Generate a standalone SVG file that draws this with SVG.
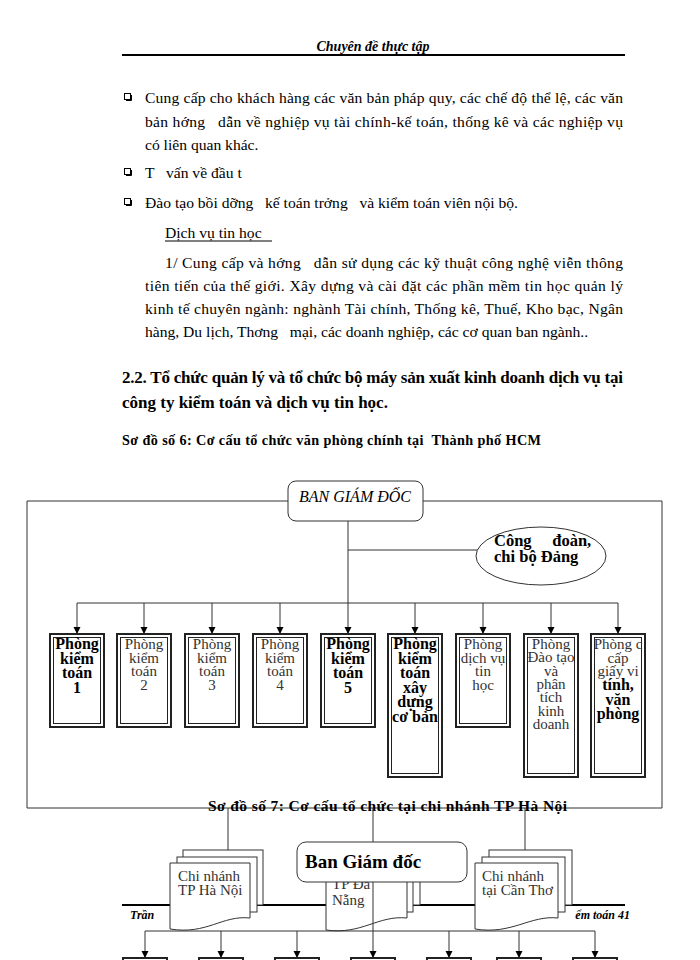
<svg xmlns="http://www.w3.org/2000/svg" width="700" height="960" viewBox="0 0 700 960">
<style>
.t{font-family:"Liberation Serif","Times New Roman",serif;font-size:15.6px;fill:#000}
.b{font-weight:bold}
.hd{font-family:"Liberation Serif",serif;font-style:italic;font-weight:bold;font-size:14px}
.bx{font-family:"Liberation Serif",serif;font-size:16px;text-anchor:middle;fill:#000;font-weight:bold}
.rg{font-weight:normal;fill:#333;font-size:15px}
.ln{stroke:#333;stroke-width:1;fill:none}
.ob{fill:#fff;stroke:#222;stroke-width:2}
.ib{fill:none;stroke:#222;stroke-width:1}
.doc{fill:#fff;stroke:#333;stroke-width:1}
.bul{fill:#fff;stroke:#000;stroke-width:1}
</style>
<defs>
<marker id="ad" markerWidth="8" markerHeight="8" refX="4" refY="7" markerUnits="userSpaceOnUse" viewBox="0 0 8 8">
<path d="M0.5 0 L7.5 0 L4 7 Z" fill="#000"/>
</marker>
</defs>
<rect width="700" height="960" fill="#fff"/>

<!-- header -->
<text class="hd" x="373" y="51" text-anchor="middle">Chuyên đề thực tập</text>
<line x1="122" y1="55" x2="625" y2="55" stroke="#000" stroke-width="2"/>

<!-- bullets -->
<rect class="bul" x="124.5" y="93.5" width="6" height="6"/><path d="M126 100.5 H131.5 V95" stroke="#000" fill="none"/>
<rect class="bul" x="124.5" y="168.5" width="6" height="6"/><path d="M126 175.5 H131.5 V170" stroke="#000" fill="none"/>
<rect class="bul" x="124.5" y="198.5" width="6" height="6"/><path d="M126 205.5 H131.5 V200" stroke="#000" fill="none"/>

<text class="t" x="145" y="103" textLength="478" lengthAdjust="spacing">Cung cấp cho khách hàng các văn bản pháp quy, các chế độ thể lệ, các văn</text>
<text class="t" x="145" y="127" textLength="478" lengthAdjust="spacing" xml:space="preserve">bản hớng   dẫn về nghiệp vụ tài chính-kế toán, thống kê và các nghiệp vụ</text>
<text class="t" x="145" y="150">có liên quan khác.</text>
<text class="t" x="145" y="178" xml:space="preserve">T   vấn về đầu t</text>
<text class="t" x="145" y="208" xml:space="preserve">Đào tạo bồi dỡng   kế toán trởng   và kiểm toán viên nội bộ.</text>
<text class="t" x="165" y="238">Dịch vụ tin học </text>
<line x1="165" y1="241" x2="272" y2="241" stroke="#000" stroke-width="1"/>
<text class="t" x="165" y="268" textLength="458" lengthAdjust="spacing" xml:space="preserve">1/ Cung cấp và hớng   dẫn sử dụng các kỹ thuật công nghệ viễn thông</text>
<text class="t" x="145" y="291" textLength="478" lengthAdjust="spacing">tiên tiến của thế giới. Xây dựng và cài đặt các phần mềm tin học quản lý</text>
<text class="t" x="145" y="314" textLength="478" lengthAdjust="spacing">kinh tế chuyên ngành: nghành Tài chính, Thống kê, Thuế, Kho bạc, Ngân</text>
<text class="t" x="145" y="337" xml:space="preserve">hàng, Du lịch, Thơng   mại, các doanh nghiệp, các cơ quan ban ngành..</text>

<text class="t b" x="122" y="383" style="font-size:17px" textLength="501" lengthAdjust="spacing">2.2. Tổ chức quản lý và tổ chức bộ máy sản xuất kinh doanh dịch vụ tại</text>
<text class="t b" x="122" y="408" style="font-size:17px">công ty kiểm toán và dịch vụ tin học.</text>
<text class="t b" x="122" y="445" style="font-size:14.2px" textLength="419" lengthAdjust="spacing" xml:space="preserve">Sơ đồ số 6: Cơ cấu tổ chức văn phòng chính tại  Thành phố HCM</text>

<!-- connectors diagram 6 -->
<g id="connectors">
<path class="ln" d="M288 501 H27 V808 H662 V501 H423"/>
<line class="ln" x1="348" y1="521" x2="348" y2="603"/>
<line class="ln" x1="348" y1="550" x2="478" y2="550"/>
<line class="ln" x1="77" y1="603" x2="618" y2="603"/>
<line class="ln" x1="77" y1="603" x2="77" y2="634" marker-end="url(#ad)"/>
<line class="ln" x1="144" y1="603" x2="144" y2="634" marker-end="url(#ad)"/>
<line class="ln" x1="212" y1="603" x2="212" y2="634" marker-end="url(#ad)"/>
<line class="ln" x1="280" y1="603" x2="280" y2="634" marker-end="url(#ad)"/>
<line class="ln" x1="348" y1="603" x2="348" y2="634" marker-end="url(#ad)"/>
<line class="ln" x1="415" y1="603" x2="415" y2="634" marker-end="url(#ad)"/>
<line class="ln" x1="483" y1="603" x2="483" y2="634" marker-end="url(#ad)"/>
<line class="ln" x1="551" y1="603" x2="551" y2="634" marker-end="url(#ad)"/>
<line class="ln" x1="618" y1="603" x2="618" y2="634" marker-end="url(#ad)"/>
</g>

<g id="ban-giam-doc">
<rect x="288" y="481" width="135" height="40" rx="8" fill="#fff" stroke="#333" stroke-width="1"/>
<text x="355" y="502" text-anchor="middle" style="font-family:'Liberation Serif',serif;font-style:italic;font-size:16px">BAN GIÁM ĐỐC</text>
</g>

<g id="cong-doan">
<ellipse cx="541" cy="556" rx="65" ry="29" fill="#fff" stroke="#333" stroke-width="1"/>
<text class="t b" x="494" y="546" style="font-size:16.5px" xml:space="preserve">Công     đoàn,</text>
<text class="t b" x="494" y="562" style="font-size:16.5px">chi bộ Đảng</text>
</g>

<g id="p1"><rect class="ob" x="50" y="634" width="54" height="93"/><rect class="ib" x="53.5" y="637.5" width="47" height="86"/>
<text class="bx" x="77"><tspan x="77" y="649">Phòng</tspan><tspan x="77" y="663.5">kiểm</tspan><tspan x="77" y="678">toán</tspan><tspan x="77" y="692.5">1</tspan></text></g>
<g id="p2"><rect class="ob" x="117" y="634" width="54" height="93"/><rect class="ib" x="120.5" y="637.5" width="47" height="86"/>
<text class="bx rg" x="144"><tspan x="144" y="649">Phòng</tspan><tspan x="144" y="662.5">kiểm</tspan><tspan x="144" y="676">toán</tspan><tspan x="144" y="689.5">2</tspan></text></g>
<g id="p3"><rect class="ob" x="185" y="634" width="54" height="93"/><rect class="ib" x="188.5" y="637.5" width="47" height="86"/>
<text class="bx rg" x="212"><tspan x="212" y="649">Phòng</tspan><tspan x="212" y="662.5">kiểm</tspan><tspan x="212" y="676">toán</tspan><tspan x="212" y="689.5">3</tspan></text></g>
<g id="p4"><rect class="ob" x="253" y="634" width="54" height="93"/><rect class="ib" x="256.5" y="637.5" width="47" height="86"/>
<text class="bx rg" x="280"><tspan x="280" y="649">Phòng</tspan><tspan x="280" y="662.5">kiểm</tspan><tspan x="280" y="676">toán</tspan><tspan x="280" y="689.5">4</tspan></text></g>
<g id="p5"><rect class="ob" x="321" y="634" width="54" height="93"/><rect class="ib" x="324.5" y="637.5" width="47" height="86"/>
<text class="bx" x="348"><tspan x="348" y="649">Phòng</tspan><tspan x="348" y="663.5">kiểm</tspan><tspan x="348" y="678">toán</tspan><tspan x="348" y="692.5">5</tspan></text></g>
<g id="p6"><rect class="ob" x="388" y="634" width="54" height="143"/><rect class="ib" x="391.5" y="637.5" width="47" height="136"/>
<text class="bx" x="415"><tspan x="415" y="649">Phòng</tspan><tspan x="415" y="663.5">kiểm</tspan><tspan x="415" y="678">toán</tspan><tspan x="415" y="692.5">xây</tspan><tspan x="415" y="707">dựng</tspan><tspan x="415" y="721.5">cơ bản</tspan></text></g>
<g id="p7"><rect class="ob" x="456" y="634" width="54" height="93"/><rect class="ib" x="459.5" y="637.5" width="47" height="86"/>
<text class="bx rg" x="483"><tspan x="483" y="649">Phòng</tspan><tspan x="483" y="662.5">dịch vụ</tspan><tspan x="483" y="676">tin</tspan><tspan x="483" y="689.5">học</tspan></text></g>
<g id="p8"><rect class="ob" x="524" y="634" width="54" height="143"/><rect class="ib" x="527.5" y="637.5" width="47" height="136"/>
<text class="bx rg" x="551"><tspan x="551" y="649">Phòng</tspan><tspan x="551" y="662.3">Đào tạo</tspan><tspan x="551" y="675.6">và</tspan><tspan x="551" y="689">phân</tspan><tspan x="551" y="702.3">tích</tspan><tspan x="551" y="715.6">kinh</tspan><tspan x="551" y="729">doanh</tspan></text></g>
<g id="p9"><rect class="ob" x="591" y="634" width="54" height="143"/><rect class="ib" x="594.5" y="637.5" width="47" height="136"/>
<text class="bx rg" x="618"><tspan x="618" y="649">Phòng c</tspan><tspan x="618" y="662.5">cấp</tspan><tspan x="618" y="676">giấy vi</tspan><tspan x="618" y="690" font-weight="bold" fill="#000" font-size="16">tính,</tspan><tspan x="618" y="704.5" font-weight="bold" fill="#000" font-size="16">văn</tspan><tspan x="618" y="719" font-weight="bold" fill="#000" font-size="16">phòng</tspan></text></g>

<!-- diagram 7 -->
<text class="t b" x="208" y="811" style="font-size:15.5px" textLength="359" lengthAdjust="spacing">Sơ đồ số 7: Cơ cấu tổ chức tại chi nhánh TP Hà Nội</text>

<!-- footer -->
<line x1="122" y1="905" x2="625" y2="905" stroke="#000" stroke-width="2"/>
<text class="hd" x="130" y="919" style="font-size:12px">Trần</text>
<text class="hd" x="630" y="919" text-anchor="end" style="font-size:12px">ểm toán 41</text>

<g id="connectors-7">
<line class="ln" x1="228" y1="808" x2="228" y2="850"/>
<line class="ln" x1="525" y1="808" x2="525" y2="850"/>
<line class="ln" x1="373" y1="808" x2="373" y2="842"/>
</g>

<g id="cn-ha-noi">
<rect class="doc" x="183" y="850" width="80" height="55"/>
<rect class="doc" x="177" y="857" width="80" height="55"/>
<path class="doc" d="M170 863 H250 V918 C222 915 207 935 170 929 Z"/>
<text class="t rg" x="178" y="881">Chi nhánh</text>
<text class="t rg" x="178" y="895">TP Hà Nội</text>
</g>

<g id="cn-da-nang">
<rect class="doc" x="340" y="852" width="80" height="53"/>
<rect class="doc" x="333" y="857" width="80" height="55"/>
<path class="doc" d="M326 862 H407 V918 C378 915 362 935 326 930 Z"/>
<text class="t rg" x="332" y="889">TP Đà</text>
<text class="t rg" x="332" y="905">Nẵng</text>
</g>

<g id="cn-can-tho">
<rect class="doc" x="489" y="850" width="83" height="55"/>
<rect class="doc" x="482" y="857" width="83" height="55"/>
<path class="doc" d="M475 863 H558 V918 C530 915 512 935 475 929 Z"/>
<text class="t rg" x="482" y="881">Chi nhánh</text>
<text class="t rg" x="482" y="895">tại Cần Thơ</text>
</g>

<g id="ban-giam-doc-7">
<rect x="297" y="842" width="170" height="40" rx="9" fill="#fff" stroke="#333" stroke-width="1"/>
<text class="t b" x="305" y="868" style="font-size:19px">Ban Giám đốc</text>
</g>

<g id="connectors-7b">
<line class="ln" x1="373" y1="882" x2="373" y2="931"/>
<line class="ln" x1="145" y1="931" x2="595" y2="931"/>
<line class="ln" x1="145" y1="931" x2="145" y2="958" marker-end="url(#ad)"/>
<line class="ln" x1="221" y1="931" x2="221" y2="958" marker-end="url(#ad)"/>
<line class="ln" x1="297" y1="931" x2="297" y2="958" marker-end="url(#ad)"/>
<line class="ln" x1="373" y1="931" x2="373" y2="958" marker-end="url(#ad)"/>
<line class="ln" x1="449" y1="931" x2="449" y2="958" marker-end="url(#ad)"/>
<line class="ln" x1="519" y1="931" x2="519" y2="958" marker-end="url(#ad)"/>
<line class="ln" x1="595" y1="931" x2="595" y2="958" marker-end="url(#ad)"/>
</g>
<g id="bottom-boxes">
<rect class="ob" x="123" y="958" width="44" height="20"/>
<rect class="ob" x="199" y="958" width="44" height="20"/>
<rect class="ob" x="275" y="958" width="44" height="20"/>
<rect class="ob" x="351" y="958" width="44" height="20"/>
<rect class="ob" x="427" y="958" width="44" height="20"/>
<rect class="ob" x="497" y="958" width="44" height="20"/>
<rect class="ob" x="573" y="958" width="44" height="20"/>
</g>
</svg>
